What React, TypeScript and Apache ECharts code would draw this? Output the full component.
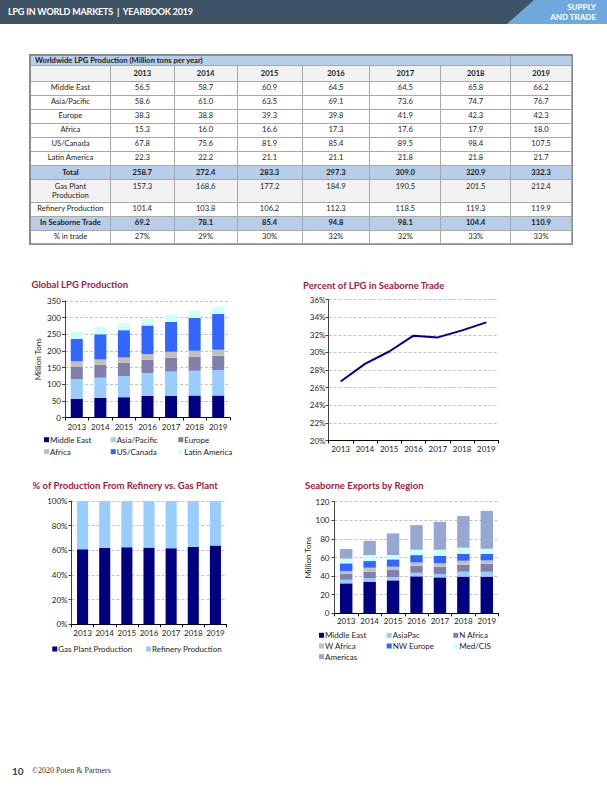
import React, { useEffect, useRef } from 'react';
import * as echarts from 'echarts';

// ---------- data ----------
const years = ['2013', '2014', '2015', '2016', '2017', '2018', '2019'];
const middleEast = [56.5, 58.7, 60.9, 64.5, 64.5, 65.8, 66.2];
const asiaPacific = [58.6, 61.0, 63.5, 69.1, 73.6, 74.7, 76.7];
const europe = [38.3, 38.8, 39.3, 39.8, 41.9, 42.3, 42.3];
const africa = [15.3, 16.0, 16.6, 17.3, 17.6, 17.9, 18.0];
const usCanada = [67.8, 75.6, 81.9, 85.4, 89.5, 98.4, 107.5];
const latinAmerica = [22.3, 22.2, 21.1, 21.1, 21.8, 21.8, 21.7];
const totals = [258.7, 272.4, 283.3, 297.3, 309.0, 320.9, 332.3];
const gasPlant = [157.3, 168.6, 177.2, 184.9, 190.5, 201.5, 212.4];
const refinery = [101.4, 103.8, 106.2, 112.3, 118.5, 119.3, 119.9];
const seaborne = [69.2, 78.1, 85.4, 94.8, 98.1, 104.4, 110.9];
const pctInTrade = ['27%', '29%', '30%', '32%', '32%', '33%', '33%'];

const seabornePct = [26.7, 28.7, 30.1, 31.9, 31.7, 32.5, 33.4];
const gasPlantShare = [60.8, 61.9, 62.5, 62.2, 61.7, 62.8, 63.9];
const refineryShare = [39.2, 38.1, 37.5, 37.8, 38.3, 37.2, 36.1];

const expMiddleEast = [32.2, 34.0, 35.4, 39.7, 38.6, 39.4, 39.4];
const expAsiaPac = [3.9, 3.9, 3.6, 3.9, 3.6, 5.3, 5.3];
const expNAfrica = [6.5, 6.8, 7.5, 7.6, 7.9, 7.5, 8.6];
const expWAfrica = [2.8, 4.3, 3.6, 3.5, 3.6, 4.3, 3.6];
const expNWEurope = [8.3, 7.2, 7.9, 7.9, 8.2, 7.5, 7.1];
const expMedCIS = [5.0, 6.4, 4.6, 5.7, 6.4, 6.5, 5.4];
const expAmericas = [10.4, 15.4, 23.3, 26.5, 30.1, 34.0, 40.8];

const prodTicks = [0, 350, 50];
const pctTicks = [20, 36, 2];
const shareTicks = [0, 100, 20];
const expTicks = [0, 120, 20];

// ---------- styles ----------
const FONT = 'Lato, "Noto Sans", sans-serif';
const TXT = '#1c1c1c';
const TITLE = '#9e2145';
const C_NAVY = '#000080';
const C_LBLUE = '#99ccff';
const C_PURP = '#8080aa';
const C_GREY = '#c0c0c0';
const C_BLUE = '#3366ff';
const C_CYAN = '#ccffff';
const C_AMER = '#96a8d2';

const fmt1 = (v: number) => v.toFixed(1);

function xAx(gridIndex: number, margin: number) {
  return {
    type: 'category',
    gridIndex,
    data: years,
    axisLine: { lineStyle: { color: '#000', width: 1 } },
    axisTick: { show: true, length: 3, lineStyle: { color: '#000' } },
    axisLabel: { fontSize: 8, color: TXT, fontFamily: FONT, margin, interval: 0 },
  };
}

function yAx(gridIndex: number, t: number[], margin: number, suffix: string, name?: string, nameGap?: number) {
  return {
    type: 'value',
    gridIndex,
    min: t[0],
    max: t[1],
    interval: t[2],
    name: name || '',
    nameLocation: 'middle',
    nameGap: nameGap || 0,
    nameTextStyle: { fontSize: 8, color: TXT, fontFamily: FONT },
    axisLine: { show: true, lineStyle: { color: '#444', width: 1 } },
    axisTick: { show: true, length: 3, lineStyle: { color: '#444' } },
    axisLabel: { fontSize: 8, color: TXT, fontFamily: FONT, margin, formatter: '{value}' + suffix },
    splitLine: { show: true, lineStyle: { color: '#c4c4c4', type: [3, 2], width: 1 } },
  };
}

function leg(name: string, x: number, yc: number) {
  return {
    data: [name],
    left: x,
    top: yc - 5,
    padding: 0,
    itemWidth: 5,
    itemHeight: 5,
    icon: 'rect',
    selectedMode: false,
    textStyle: { fontSize: 8, color: TXT, fontFamily: FONT, lineHeight: 10, padding: [0, 0, 0, -4] },
  };
}

function ttl(text: string, left: number, yc: number) {
  return {
    text,
    left,
    top: yc - 6,
    padding: 0,
    textStyle: { fontSize: 9.5, fontWeight: 'bold', color: TITLE, fontFamily: FONT, lineHeight: 12 },
  };
}

function bar(name: string, data: number[], color: string, idx: number, stack: string, barWidth: string) {
  return {
    type: 'bar',
    name,
    data,
    stack,
    xAxisIndex: idx,
    yAxisIndex: idx,
    barWidth,
    itemStyle: { color },
  };
}

// ---------- table ----------
const colWidths = [80, 64, 63, 65, 68, 71, 70, 61];
type Row = { label: string; values: string[]; h: number; bg: string; bold?: boolean; top?: boolean };
const tableRows: Row[] = [
  { label: 'Middle East', values: middleEast.map(fmt1), h: 14, bg: '#fff' },
  { label: 'Asia/Pacific', values: asiaPacific.map(fmt1), h: 14, bg: '#fff' },
  { label: 'Europe', values: europe.map(fmt1), h: 14, bg: '#fff' },
  { label: 'Africa', values: africa.map(fmt1), h: 14, bg: '#fff' },
  { label: 'US/Canada', values: usCanada.map(fmt1), h: 14, bg: '#fff' },
  { label: 'Latin America', values: latinAmerica.map(fmt1), h: 14, bg: '#fff' },
  { label: 'Total', values: totals.map(fmt1), h: 14.3, bg: '#b8cde8', bold: true },
  { label: 'Gas Plant Production', values: gasPlant.map(fmt1), h: 22.7, bg: '#f2f2f2', top: true },
  { label: 'Refinery Production', values: refinery.map(fmt1), h: 14, bg: '#fff' },
  { label: 'In Seaborne Trade', values: seaborne.map(fmt1), h: 14, bg: '#b8cde8', bold: true },
  { label: '% in trade', values: pctInTrade, h: 13.7, bg: '#fff' },
];

const cellBase: React.CSSProperties = {
  boxSizing: 'border-box',
  borderRight: '1px solid #a8a8a8',
  borderBottom: '1px solid #a8a8a8',
  display: 'flex',
  justifyContent: 'center',
  alignItems: 'center',
  textAlign: 'center',
  lineHeight: '9.5px',
  overflow: 'hidden',
};

function Table() {
  const rowStyle = (h: number, bg: string): React.CSSProperties => ({ display: 'flex', height: h, background: bg });
  return (
    <div
      style={{
        position: 'absolute',
        left: 30,
        top: 54.5,
        width: 542,
        boxSizing: 'border-box',
        borderLeft: '1px solid #8c8c8c',
        borderTop: '1px solid #8c8c8c',
        outline: '0.5px solid #8c8c8c',
        fontFamily: FONT,
        fontSize: 7.6,
        color: TXT,
      }}
    >
      <div style={rowStyle(10.5, '#b8cde8')}>
        <div style={{ ...cellBase, width: 481, justifyContent: 'flex-start', paddingLeft: 4, fontWeight: 'bold' }}>
          Worldwide LPG Production (Million tons per year)
        </div>
        <div style={{ ...cellBase, width: 61 }} />
      </div>
      <div style={rowStyle(15.7, '#f2f2f2')}>
        <div style={{ ...cellBase, width: colWidths[0] }} />
        {years.map((y, i) => (
          <div key={y} style={{ ...cellBase, width: colWidths[i + 1], fontWeight: 'bold' }}>
            {y}
          </div>
        ))}
      </div>
      {tableRows.map((r) => (
        <div key={r.label} style={rowStyle(r.h, r.bg)}>
          <div
            style={{
              ...cellBase,
              width: colWidths[0],
              fontWeight: r.bold ? 'bold' : 'normal',
              alignItems: r.top ? 'flex-start' : 'center',
              padding: r.top ? '2px 14px 0 14px' : 0,
            }}
          >
            {r.label}
          </div>
          {r.values.map((v, i) => (
            <div
              key={i}
              style={{
                ...cellBase,
                width: colWidths[i + 1],
                fontWeight: r.bold ? 'bold' : 'normal',
                alignItems: r.top ? 'flex-start' : 'center',
                paddingTop: r.top ? 2 : 0,
              }}
            >
              {v}
            </div>
          ))}
        </div>
      ))}
    </div>
  );
}

// ---------- app ----------
export default function App() {
  const ref = useRef<HTMLDivElement>(null);

  useEffect(() => {
    if (!ref.current) return;
    const chart = echarts.init(ref.current, undefined, { renderer: 'svg' });
    const option = {
      animation: false,
      title: [
        ttl('Global LPG Production', 31.5, 284),
        ttl('Percent of LPG in Seaborne Trade', 303, 285),
        ttl('% of Production From Refinery vs. Gas Plant', 32.5, 485.5),
        ttl('Seaborne Exports by Region', 305, 485),
      ],
      grid: [
        { left: 65, top: 301, width: 165, height: 116.5 },
        { left: 328.5, top: 299.5, width: 170, height: 141 },
        { left: 71.5, top: 501, width: 155, height: 123.3 },
        { left: 334.5, top: 501.7, width: 164, height: 111.6 },
      ],
      xAxis: [xAx(0, 5), xAx(1, 4), xAx(2, 4.5), xAx(3, 4)],
      yAxis: [
        yAx(0, prodTicks, 4, '', 'Million Tons', 23),
        yAx(1, pctTicks, 3, '%'),
        yAx(2, shareTicks, 4, '%'),
        yAx(3, expTicks, 5, '', 'Million Tons', 18),
      ],
      legend: [
        leg('Middle East', 44, 439.7),
        leg('Asia/Pacific', 110.7, 439.7),
        leg('Europe', 178.3, 439.7),
        leg('Africa', 44, 451.7),
        leg('US/Canada', 110.7, 451.7),
        leg('Latin America', 178.3, 451.7),
        leg('Gas Plant Production', 52.3, 649),
        leg('Refinery Production', 146, 649),
        leg('Middle East ', 319, 635.3),
        leg('AsiaPac', 386.7, 635.3),
        leg('N Africa', 453.3, 635.3),
        leg('W Africa', 319, 646),
        leg('NW Europe', 386.7, 646),
        leg('Med/CIS', 453.3, 646),
        leg('Americas', 319, 656.7),
      ],
      series: [
        bar('Middle East', middleEast, C_NAVY, 0, 'p', '51%'),
        bar('Asia/Pacific', asiaPacific, C_LBLUE, 0, 'p', '51%'),
        bar('Europe', europe, C_PURP, 0, 'p', '51%'),
        bar('Africa', africa, C_GREY, 0, 'p', '51%'),
        bar('US/Canada', usCanada, C_BLUE, 0, 'p', '51%'),
        bar('Latin America', latinAmerica, C_CYAN, 0, 'p', '51%'),
        {
          type: 'line',
          name: 'Percent in Seaborne Trade',
          data: seabornePct,
          xAxisIndex: 1,
          yAxisIndex: 1,
          symbol: 'none',
          lineStyle: { color: C_NAVY, width: 2 },
          itemStyle: { color: C_NAVY },
        },
        bar('Gas Plant Production', gasPlantShare, C_NAVY, 2, 's', '50%'),
        bar('Refinery Production', refineryShare, C_LBLUE, 2, 's', '50%'),
        bar('Middle East ', expMiddleEast, C_NAVY, 3, 'e', '53%'),
        bar('AsiaPac', expAsiaPac, C_LBLUE, 3, 'e', '53%'),
        bar('N Africa', expNAfrica, C_PURP, 3, 'e', '53%'),
        bar('W Africa', expWAfrica, C_GREY, 3, 'e', '53%'),
        bar('NW Europe', expNWEurope, C_BLUE, 3, 'e', '53%'),
        bar('Med/CIS', expMedCIS, C_CYAN, 3, 'e', '53%'),
        bar('Americas', expAmericas, C_AMER, 3, 'e', '53%'),
      ],
    };
    chart.setOption(option as any);
    return () => chart.dispose();
  }, []);

  return (
    <div style={{ position: 'absolute', left: 0, top: 0, width: 607, height: 788, background: '#fff', overflow: 'hidden' }}>
      <div ref={ref} style={{ position: 'absolute', left: 0, top: 0, width: 607, height: 788 }} />
      {/* header */}
      <div style={{ position: 'absolute', left: 0, top: 0, width: 607, height: 24, background: '#3f5366' }} />
      <div
        style={{
          position: 'absolute',
          left: 507,
          top: 0,
          width: 100,
          height: 24,
          background: '#6fa8dc',
          clipPath: 'polygon(27px 0, 100% 0, 100% 100%, 0 100%)',
        }}
      />
      <div
        style={{
          position: 'absolute',
          left: 8,
          top: 6,
          fontFamily: FONT,
          fontWeight: 'bold',
          fontSize: 9,
          lineHeight: '12px',
          color: '#fff',
          whiteSpace: 'pre',
          letterSpacing: -0.2,
        }}
      >
        {'LPG IN WORLD MARKETS  |  YEARBOOK 2019'}
      </div>
      <div
        style={{
          position: 'absolute',
          right: 11,
          top: 3,
          fontFamily: FONT,
          fontWeight: 'bold',
          fontSize: 8,
          lineHeight: '9.5px',
          color: '#fff',
          textAlign: 'right',
        }}
      >
        SUPPLY
        <br />
        AND TRADE
      </div>
      <Table />
      {/* footer */}
      <div
        style={{
          position: 'absolute',
          left: 12,
          top: 765,
          fontFamily: FONT,
          fontWeight: 'bold',
          fontSize: 10,
          lineHeight: '12px',
          color: '#2b3f55',
        }}
      >
        10
      </div>
      <div
        style={{
          position: 'absolute',
          left: 32,
          top: 766,
          fontFamily: '"Liberation Serif", "DejaVu Serif", serif',
          fontSize: 8,
          lineHeight: '10px',
          color: '#333',
        }}
      >
        ©2020 Poten &amp; Partners
      </div>
    </div>
  );
}
